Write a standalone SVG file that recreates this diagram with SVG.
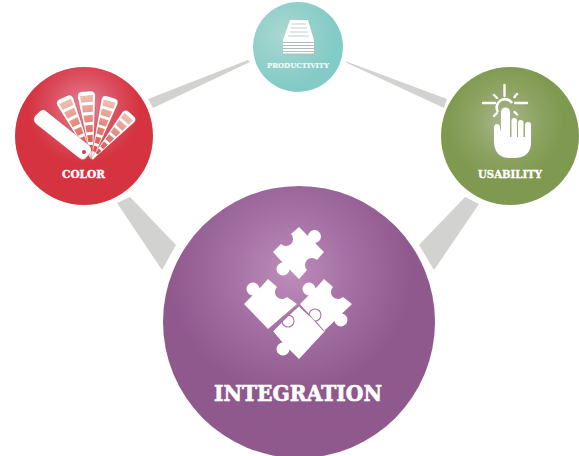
<svg xmlns="http://www.w3.org/2000/svg" xmlns:xlink="http://www.w3.org/1999/xlink" width="579" height="456" viewBox="0 0 579 456">
<style>
.lbl{font-family:"DejaVu Serif","Liberation Serif",serif;font-weight:bold;fill:#fff;stroke:#fff;text-anchor:middle;paint-order:stroke}
.conn{fill:#d2d2d0}
.w{fill:#fff}
.ray{stroke:#fff;stroke-width:2.4;stroke-linecap:round;fill:none}
.gap{fill:none;stroke:#a873a6;stroke-width:1.1}
</style>
<defs>
<filter id="soft" x="-5%" y="-5%" width="110%" height="110%"><feGaussianBlur stdDeviation=".4"/></filter>
<radialGradient id="gRed" gradientUnits="userSpaceOnUse" cx="84" cy="108" r="56"><stop offset="0" stop-color="#e6849a"/><stop offset=".55" stop-color="#dc5263"/><stop offset="1" stop-color="#d5333f"/></radialGradient>
<radialGradient id="gTeal" gradientUnits="userSpaceOnUse" cx="283" cy="35" r="52"><stop offset="0" stop-color="#aad7d1"/><stop offset="1" stop-color="#83cbc6"/></radialGradient>
<radialGradient id="gGreen" gradientUnits="userSpaceOnUse" cx="505" cy="122" r="58"><stop offset="0" stop-color="#a9b78f"/><stop offset=".6" stop-color="#8da362"/><stop offset="1" stop-color="#7f9a50"/></radialGradient>
<radialGradient id="gPurple" gradientUnits="userSpaceOnUse" cx="290" cy="272" r="122"><stop offset="0" stop-color="#bd8dbb"/><stop offset=".55" stop-color="#a26da1"/><stop offset="1" stop-color="#8f598e"/></radialGradient>
<linearGradient id="gStripe" gradientUnits="userSpaceOnUse" x1="0" y1="-66" x2="0" y2="-12"><stop offset="0" stop-color="#eec4b4"/><stop offset="1" stop-color="#d9534f"/></linearGradient>
<clipPath id="bladeClip"><path d="M-6.500,-64H6.500L1,-4H-1Z"/></clipPath>
<g id="blade">
<path d="M-9,-63Q-9,-68 -4,-68H4Q9,-68 9,-63L1.200,0H-1.200Z" fill="#fff" stroke="#a92c36" stroke-opacity=".45" stroke-width=".8"/>
<g clip-path="url(#bladeClip)" fill="url(#gStripe)">
<rect x="-9" y="-64" width="18" height="7"/><rect x="-9" y="-54" width="18" height="7"/><rect x="-9" y="-44" width="18" height="7"/><rect x="-9" y="-34" width="18" height="7"/><rect x="-9" y="-24" width="18" height="7"/><rect x="-9" y="-14" width="18" height="6"/>
</g>
</g>
</defs>
<g id="connectors">
<polygon class="conn" points="148,99 153,108 250,62 248,60"/>
<polygon class="conn" points="345,61 347,63 444,108 447,99"/>
<polygon class="conn" points="117,203 130,197 176,245 162,270"/>
<polygon class="conn" points="465,197 479,204 434,270 419,245"/>
</g>
<g id="node-productivity">
<circle cx="298" cy="47" r="45" fill="url(#gTeal)"/>
<g filter="url(#soft)">
<path class="w" d="M290,20H308L314,40H283Z"/>
<path d="M292,24H306M291,28H307M290,32H308M288,36H309" stroke="#c2cfcd" stroke-width="1"/>
<rect class="w" x="283" y="40" width="31" height="14"/>
<path d="M283,42.500H314M283,45.500H314M283,48.500H314M283,51.500H314M283,54H314" stroke="#aebcba" stroke-width="1"/>
</g>
<text class="lbl" x="298" y="68" font-size="8" stroke-width=".2" fill-opacity=".85" textLength="62" lengthAdjust="spacingAndGlyphs">PRODUCTIVITY</text>
</g>
<g id="node-color">
<circle cx="84" cy="136" r="69" fill="url(#gRed)"/>
<g filter="url(#soft)">
<use xlink:href="#blade" href="#blade" transform="translate(92,159) rotate(-25)"/>
<use xlink:href="#blade" href="#blade" transform="translate(92,159) rotate(-5)"/>
<use xlink:href="#blade" href="#blade" transform="translate(92,159) rotate(17) scale(.95)"/>
<use xlink:href="#blade" href="#blade" transform="translate(92,159) rotate(41) scale(.88)"/>
<path d="M46,111L90,146Q92,149 91,152L86,158Q83,161 79,158L36,124Q32,120 35,116L39,112Q43,108 46,111Z" fill="#fff" stroke="#a92c36" stroke-opacity=".4" stroke-width=".8"/>
<circle cx="84" cy="152" r="2" fill="#c2404c"/>
</g>
<text class="lbl" x="83.500" y="178" font-size="11.500" stroke-width=".4" textLength="43" lengthAdjust="spacingAndGlyphs">COLOR</text>
</g>
<g id="node-usability">
<circle cx="510" cy="136" r="69" fill="url(#gGreen)"/>
<g filter="url(#soft)">
<path class="ray" d="M504.500,85V96M483,103H495M515,103H527M494,95L497,98M517,94L514.500,97M494,116L497,113M514.500,112L517,114.500"/>
<path d="M498,112A8,8 0 0 1 512,103" fill="none" stroke="#fff" stroke-width="2.600"/>
<path class="w" d="M501,112A4.500,4.500 0 0 1 510,112V142H501Z"/>
<rect class="w" x="511.500" y="118" width="5.500" height="26" rx="2.700"/>
<rect class="w" x="518" y="120" width="5.500" height="24" rx="2.700"/>
<rect class="w" x="525" y="122" width="6" height="24" rx="3"/>
<path class="w" d="M494,128Q494,124 497,124Q500,124 500,128L502,137H531V142Q531,158 514,158H510Q494,158 494,141Z"/>
</g>
<text class="lbl" x="510" y="178" font-size="11.500" stroke-width=".4" textLength="64" lengthAdjust="spacingAndGlyphs">USABILITY</text>
</g>
<g id="node-integration">
<circle cx="299" cy="322" r="136" fill="url(#gPurple)"/>
<g filter="url(#soft)">
<path class="w" d="M299,227L308,236A6.500,6.500 0 1 1 315,243L324,252L317,260A7,7 0 1 0 307,270L299,279L289.500,269.500A6.500,6.500 0 1 1 282.500,262.500L273,252L281,244A7,7 0 1 0 291,234Z"/>
<path class="w" d="M268,279L277,287A7,7 0 1 0 287,297L297,304L268,329L244,304L252.500,295.500A6.500,6.500 0 1 1 259.500,288.500Z"/>
<path class="w" d="M324,279L333,287A7,7 0 1 0 343,297L352,304L342,313.500A6.500,6.500 0 1 1 334.500,321L324,331L300,304L308.500,295.500A6.500,6.500 0 1 1 315.500,288.500Z"/>
<path class="w" d="M299,306L325,331L299,359L289.500,349.500A6.500,6.500 0 1 1 282.500,342.500L273,331Z"/>
<path class="gap" d="M298.500,306L288,315A6,6 0 1 1 282,321L273,331"/>
<path class="gap" d="M299.500,306L309,315A6,6 0 1 1 315,321L324,331"/>
</g>
<text class="lbl" x="298" y="401" font-size="23" stroke-width=".7" textLength="168" lengthAdjust="spacingAndGlyphs">INTEGRATION</text>
</g>
</svg>
